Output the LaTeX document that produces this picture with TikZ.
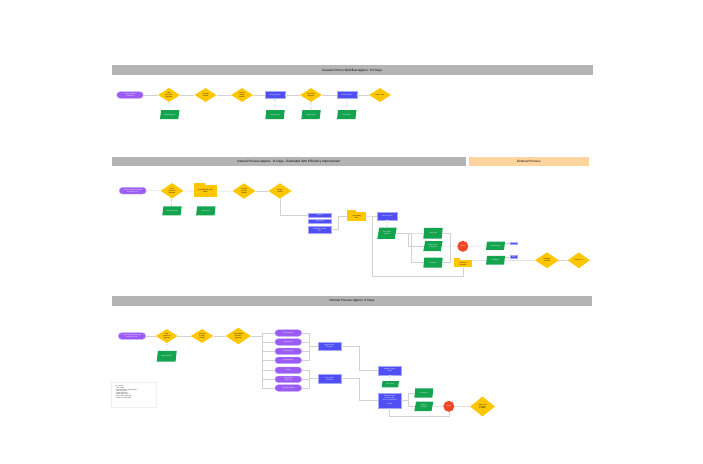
\documentclass[tikz,border=0pt]{standalone}
\usepackage{fontspec}
\setmainfont{Liberation Sans}
\usetikzlibrary{shapes.geometric}

\definecolor{promopurple}{HTML}{9B5CF6}
\definecolor{promoyellow}{HTML}{FFC700}
\definecolor{promoblue}{HTML}{4F4FF5}
\definecolor{promogreen}{HTML}{14A34F}
\definecolor{promored}{HTML}{F24726}
\definecolor{bargrey}{HTML}{B4B4B4}
\definecolor{barorange}{HTML}{FFD49E}
\definecolor{linegrey}{HTML}{D2D2D2}

\newcommand{\shapefont}{\fontsize{1.6}{1.9}\selectfont}
\newcommand{\barfont}{\fontsize{3.1}{3.7}\selectfont}
\newcommand{\keyfont}{\fontsize{1.3}{1.65}\selectfont}

\tikzset{
  pill/.style={rectangle, rounded corners=3.2pt, fill=promopurple, draw=promopurple!55,
    line width=0.4pt, text=white, font=\shapefont, align=center,
    minimum width=26.5pt, minimum height=6.6pt, inner sep=0.4pt},
  choice/.style={diamond, aspect=1.6, fill=promoyellow, font=\shapefont, align=center,
    text width=9pt, minimum width=22pt, minimum height=14pt, inner sep=0pt},
  task/.style={rectangle, fill=promoblue, draw=promoblue!50, line width=0.4pt,
    text=white, font=\shapefont, align=center,
    minimum width=20pt, minimum height=6.8pt, inner sep=0.3pt},
  asset/.style={trapezium, trapezium left angle=70, trapezium right angle=110,
    trapezium stretches=true, fill=promogreen, text=white, font=\shapefont,
    align=center, text width=11pt, minimum width=19.4pt, minimum height=9pt, inner sep=0.3pt},
  folder/.style={rectangle, fill=promoyellow, font=\shapefont, align=center,
    minimum width=22.7pt, minimum height=12pt, inner sep=0.3pt},
  stop/.style={circle, fill=promored, text=white, font=\shapefont,
    minimum size=11pt, inner sep=0pt},
  phase/.style={rectangle, fill=bargrey, font=\barfont, minimum height=10pt, inner sep=0pt},
  flow/.style={draw=linegrey, line width=0.45pt},
  link/.style={draw=linegrey, line width=0.3pt, double distance=0.8pt, densely dashed}
}

\begin{document}
\begin{tikzpicture}[x=1pt, y=-1pt]
\useasboundingbox[fill=white] (0,0) rectangle (703,463);

% phase bars
\node[phase, minimum width=481pt] (bar1) at (352.2,70.3) {Creative Promo Workflow Approx. 0.5 Days};
\node[phase, minimum width=354.3pt, minimum height=9.6pt] (bar2) at (288.85,161.5) {Internal Process Approx. 11 Days - Estimated 30\% Efficiency Improvement};
\node[phase, fill=barorange, minimum width=119.7pt, minimum height=9.6pt] (bar3) at (528.85,161.5) {External Process};
\node[phase, minimum width=480.6pt] (bar4) at (352,300.7) {Internal Process Approx. 8 Days};

% creative promo workflow
\node[pill] (a1) at (130,95) {Promo Request\\Submitted};
\node[choice] (a2) at (169,95) {Brief Review \& Approval};
\node[choice] (a3) at (205.5,95) {Concept Review};
\node[choice] (a4) at (242,95) {Copy \& Design Review};
\node[task] (a5) at (275,95) {Design Artwork};
\node[choice] (a6) at (311,95) {Final Proof Approval};
\node[task] (a7) at (346.7,95) {Send to Printer};
\node[choice] (a8) at (380,95) {Promo Live};
\node[asset] (a2d) at (169.7,114.7) {Approved Brief};
\node[asset] (a5d) at (275,114.7) {Artwork Files};
\node[asset] (a6d) at (311,114.7) {Signed Proof};
\node[asset] (a7d) at (346.7,114.7) {Print Order};

\foreach \u/\v in {a1/a2, a2/a3, a3/a4, a4/a5, a5/a6, a6/a7, a7/a8}
  \draw[flow] (\u) -- (\v);
\foreach \u in {a2, a5, a6, a7}
  \draw[link] (\u) -- (\u d);

% internal process, 11 days
\node[pill, minimum width=27pt] (b1) at (132.7,190.7) {Promo Request Submitted\\via Online Form};
\node[choice, minimum width=23pt, minimum height=15.6pt] (b2) at (172,190.8) {Brief Review \& Approval};
\node[folder] (b3) at (205.3,191.3) {Shared Brief \& Asset\\Folder};
\fill[promoyellow] (b3.north west) rectangle ++(11,-2.3);
\node[choice, minimum width=23pt, minimum height=15.6pt] (b4) at (244,191) {Concept \& Copy Review};
\node[choice, minimum width=23.4pt, minimum height=15.6pt] (b5) at (280,191) {Design Review};
\node[asset] (b2d) at (172,210.8) {Approved Brief};
\node[asset] (b3d) at (205.8,210.8) {Asset Pack};

\node[task, minimum width=22.7pt, minimum height=3.3pt] (c1) at (319.7,215.3) {Artwork};
\node[task, minimum width=22.7pt, minimum height=3.3pt] (c2) at (319.7,221.3) {Copy Final};
\node[task, minimum width=22.7pt, minimum height=6.7pt] (c3) at (319.7,229.7) {Assemble Artwork\\Files};
\node[folder, minimum width=18.7pt, minimum height=8.4pt] (c4) at (356.7,216.5) {Print Ready\\Files};
\fill[promoyellow] (c4.north west) rectangle ++(9.3,-2);
\node[task, minimum height=7.4pt] (c5) at (387.3,216) {Send to Printer};
\node[asset, minimum height=11.3pt] (c5d) at (387,233.3) {Print Order \& Specs};
\node[asset, minimum height=10.7pt] (c6) at (433,233.3) {Proof Sent};
\node[asset, minimum height=10pt] (c7) at (433,246) {Proof Check \& Sign Off};
\node[asset, minimum height=10pt] (c8) at (433,262.7) {Print Run};
\node[stop] (c9) at (462.8,246.3) {Delay};
\node[folder, minimum width=17.3pt, minimum height=7.6pt] (c10) at (463,263.5) {Revisions\\Returned};
\fill[promoyellow] (c10.north west) rectangle ++(5.7,-2);

% external process
\node[asset, minimum width=19pt, minimum height=8.3pt] (d1) at (495.5,245.8) {Printed Stock};
\node[asset, minimum width=19pt, minimum height=8.7pt] (d2) at (495.5,260.3) {Distribution};
\node[task, minimum width=7.7pt, minimum height=2.7pt] (d3) at (513.8,243.3) {Store};
\node[task, minimum width=7.7pt, minimum height=2.7pt] (d4) at (513.8,257) {Ship};
\node[choice, minimum width=24pt, minimum height=16pt] (d5) at (547,260.3) {Delivered to Stores};
\node[choice, minimum width=22.3pt, minimum height=16pt] (d6) at (578.8,260.3) {Promo Live};

\foreach \u/\v in {b1/b2, b2/b3, b3/b4, b4/b5, c4/c5, c7/c9, c9/d1, d2/d5, d5/d6}
  \draw[flow] (\u) -- (\v);
\foreach \u in {b2, b3, c5}
  \draw[link] (\u) -- (\u d);
\draw[flow] (b5.south) |- (c1.west);
\draw[flow] (c3.east) -- ++(7.3,0) |- (c4.west);
\draw[flow] (c5d.east) -- (c6.west);
\draw[flow] (c5d.east) -- ++(12.5,0) |- (c7.west);
\draw[flow] (c5d.east) -- ++(15,0) |- (c8.west);
\draw[flow] (c6.east) -- ++(7.5,0) |- (c8.east);
\draw[flow] (c10.east |- d2) -- (d2.west);
\draw[flow] (d3.west -| d1.east) -- (d3.west);
\draw[flow] (d4.west -| d2.east) -- (d4.west);
% loop back from revisions
\draw[flow] (c10.south) -- ++(0,8.7) -| ([xshift=-4.6pt]c5.west) -- (c5.west);

% internal process, 8 days
\node[pill, minimum width=27.3pt] (e1) at (132,336) {Promo Request Submitted\\via Online Form};
\node[choice] (e2) at (166.7,336) {Brief Review \& Approval};
\node[choice, minimum width=22.6pt] (e3) at (202,336) {Concept \& Copy Review};
\node[choice, minimum width=25.3pt, minimum height=16.6pt] (e4) at (238.3,336) {Consolidated Review \& Approval};
\node[asset, minimum width=20pt, minimum height=10.7pt] (e2d) at (166.7,356.3) {Approved Brief};

\foreach \n/\y/\txt in {1/333/{Hero Artwork}, 2/342/{Social Assets}, 3/351.3/{Web Banners},
    4/360.3/{Email Header}, 5/370.3/{Posters}, 6/379.3/{Point of Sale\\Materials}, 7/388/{Flyers \& Leaflets}}
  \node[pill, minimum width=26.7pt] (f\n) at (288.3,\y) {\txt};

\node[task, minimum width=22.4pt, minimum height=8.3pt] (g1) at (329.5,346.2) {Digital Assets\\Finalised};
\node[task, minimum width=22.4pt, minimum height=8.7pt] (g2) at (329.5,378.7) {Print Assets\\Finalised};
\node[task, minimum width=22.7pt, minimum height=9pt] (g3) at (389.7,370.5) {Upload to Asset\\Library};
\node[asset, minimum width=17.3pt, minimum height=6.3pt] (g3d) at (390.3,384.2) {Live Links};
\node[task, minimum width=22.7pt, minimum height=15pt] (g4) at (389.7,400.2) {Send Print Files\\to Printer with\\Specs \& Quantities\\ \\Printed};
\node[asset, minimum width=19pt, minimum height=9.4pt] (g5) at (423.8,393) {Proof Sent};
\node[asset, minimum width=19pt, minimum height=9.4pt] (g6) at (423.8,406.3) {Delivery to Stores};
\node[stop] (g7) at (448.8,406.3) {Delay};
\node[choice, minimum width=25pt, minimum height=20pt] (g8) at (482.5,406.5) {Promo Live in Stores \& Online};

\foreach \u/\v in {e1/e2, e2/e3, e3/e4, g6/g7, g7/g8}
  \draw[flow] (\u) -- (\v);
\draw[link] (e2) -- (e2d);
\draw[link] (g3) -- (g3d);
\foreach \n in {1,...,7}
  \draw[flow] (e4.east) -- ++(11.4,0) |- (f\n.west);
\foreach \n in {1,...,4}
  \draw[flow] (f\n.east) -- ++(7.6,0) |- (g1.west);
\foreach \n in {5,6,7}
  \draw[flow] (f\n.east) -- ++(7.6,0) |- (g2.west);
\draw[flow] (g1.east) -- ++(18.5,0) |- (g3.west);
\draw[flow] (g2.east) -- ++(18.5,0) |- (g4.west);
\draw[flow] (g4.east) -- ++(6.7,0) |- (g5.west);
\draw[flow] (g4.east) -- ++(6.7,0) |- (g6.west);
\draw[flow] (g4.south) -- ++(0,8) -| (g7.south);

% key
\node[draw=gray!12, fill=white, minimum width=44.3pt, minimum height=25pt, inner sep=0pt] (key) at (133.8,394.8) {};
\node[anchor=north west, font=\keyfont, align=left, inner sep=0pt] (keytxt) at (115.5,385.6)
  {Key / Legend:\\
   • Start / Trigger\\
   • Decision / Review / Approval Stage\\
   • Task / Action Step\\
   • Output / Document\\
   • Shared Folder / Files\\
   • Risk of Delay / Bottleneck\\
   • Sub-process / Deliverable};
\end{tikzpicture}
\end{document}
